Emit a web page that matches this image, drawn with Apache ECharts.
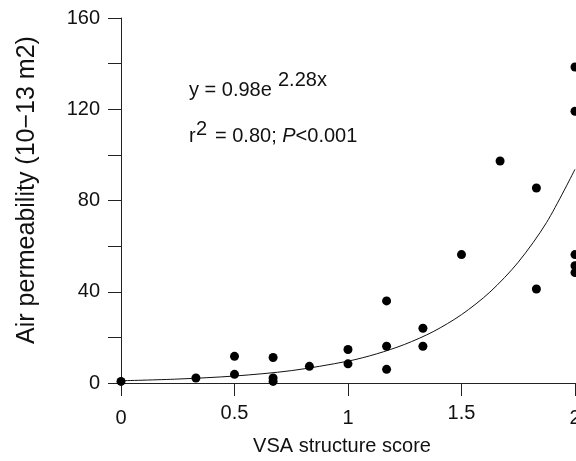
<!DOCTYPE html>
<html lang="en">
<head>
    <meta charset="UTF-8">
    <title>VSA structure score vs air permeability</title>
    <script src="https://cdn.jsdelivr.net/npm/echarts@6/dist/echarts.min.js"></script>
    <style>
        html, body { margin: 0; padding: 0; background: #fff; }
    </style>
</head>
<body>
<div id="main" style="width: 576px;height:461px;"></div>
<script type="text/javascript">
    // measured points (VSA score, air permeability)
    var vsaScore = [0, 0.33, 0.5, 0.5, 0.67, 0.67, 0.67, 0.83, 1, 1, 1.17, 1.17, 1.17,
        1.33, 1.33, 1.5, 1.67, 1.83, 1.83, 2, 2, 2, 2, 2];
    var permeability = [0.7, 2.2, 11.7, 3.8, 11.2, 2.2, 0.7, 7.3, 14.7, 8.4, 36, 16.1, 6.0,
        24, 16.1, 56.3, 97.3, 85.5, 41.2, 138.5, 119.1, 56.3, 51.4, 48.4];

    // fitted curve
    var fitX = [0, 0.25, 0.5, 0.75, 1, 1.125, 1.25, 1.375, 1.5, 1.625, 1.75, 1.875, 2];
    var fitY = [0.98, 1.73, 3.06, 5.42, 9.58, 12.74, 16.94, 22.5, 29.96, 39.84, 52.97, 70.4, 93.7];

    var xTicks = [0, 0.5, 1, 1.5, 2];
    var yLabels = [0, 40, 80, 120, 160];

    var myChart = echarts.init(document.getElementById('main'));
    var font = 'Liberation Sans, Arial, sans-serif';
    var axisColor = '#222';
    var ink = '#111';

    function txt(x, y, text, extra) {
        var style = {
            text: text, fontFamily: font, fontSize: 20, fill: ink,
            align: 'left', verticalAlign: 'middle'
        };
        for (var k in extra) style[k] = extra[k];
        return { type: 'text', x: x, y: y, style: style };
    }

    var option = {
        animation: false,
        grid: { left: 121, right: 1, top: 18, bottom: 78, containLabel: false, outerBoundsMode: 'none' },
        xAxis: {
            type: 'value',
            min: 0, max: 2, interval: 0.5,
            splitLine: { show: false },
            axisLine: { onZero: false, lineStyle: { color: axisColor, width: 1 } },
            axisTick: { length: 13, lineStyle: { color: axisColor } },
            axisLabel: {
                margin: 20,
                showMaxLabel: true,
                hideOverlap: false,
                formatter: function (v) {
                    if (xTicks.indexOf(v) < 0) return '';
                    return (v % 1 !== 0) ? '{h|' + v + '}' : '{n|' + v + '}';
                },
                rich: {
                    n: { fontFamily: font, fontSize: 20, color: ink, padding: [5, 0, 0, 0] },
                    h: { fontFamily: font, fontSize: 20, color: ink, padding: [0, 0, 5, 0] }
                }
            }
        },
        yAxis: {
            type: 'value',
            min: 0, max: 160, interval: 20,
            splitLine: { show: false },
            axisLine: { show: true, lineStyle: { color: axisColor, width: 1 } },
            axisTick: { show: true, length: 13, lineStyle: { color: axisColor } },
            axisLabel: {
                margin: 21,
                color: ink,
                fontFamily: font,
                fontSize: 20,
                formatter: function (v) {
                    return yLabels.indexOf(v) >= 0 ? String(v) : '';
                }
            }
        },
        graphic: [
            txt(189, 90, 'y = 0.98e'),
            txt(278, 80, '2.28x'),
            txt(189, 136, 'r'),
            txt(196, 129, '2'),
            txt(215, 136, '{b|= 0.80; }{i|P}{b|<0.001}', {
                rich: {
                    b: { fontFamily: font, fontSize: 20, fill: ink },
                    i: { fontFamily: font, fontSize: 20, fill: ink, fontStyle: 'italic' }
                }
            }),
            {
                type: 'text',
                x: 27, y: 190,
                rotation: Math.PI / 2,
                style: {
                    text: 'Air permeability (10\u221213 m2)',
                    fontFamily: font, fontSize: 25, fill: ink,
                    align: 'center', verticalAlign: 'middle'
                }
            },
            txt(342, 446, 'VSA structure score', { align: 'center' })
        ],
        series: [{
            name: 'fit',
            type: 'line',
            showSymbol: false,
            smooth: 0.3,
            lineStyle: { color: ink, width: 1 },
            data: fitX.map(function (x, i) { return [x, fitY[i]]; }),
            z: 1
        }, {
            name: 'measured',
            type: 'scatter',
            symbolSize: 9,
            itemStyle: { color: '#000', opacity: 1 },
            data: vsaScore.map(function (x, i) { return [x, permeability[i]]; }),
            clip: false,
            z: 2
        }]
    };
    myChart.setOption(option);
</script>
</body>
</html>
